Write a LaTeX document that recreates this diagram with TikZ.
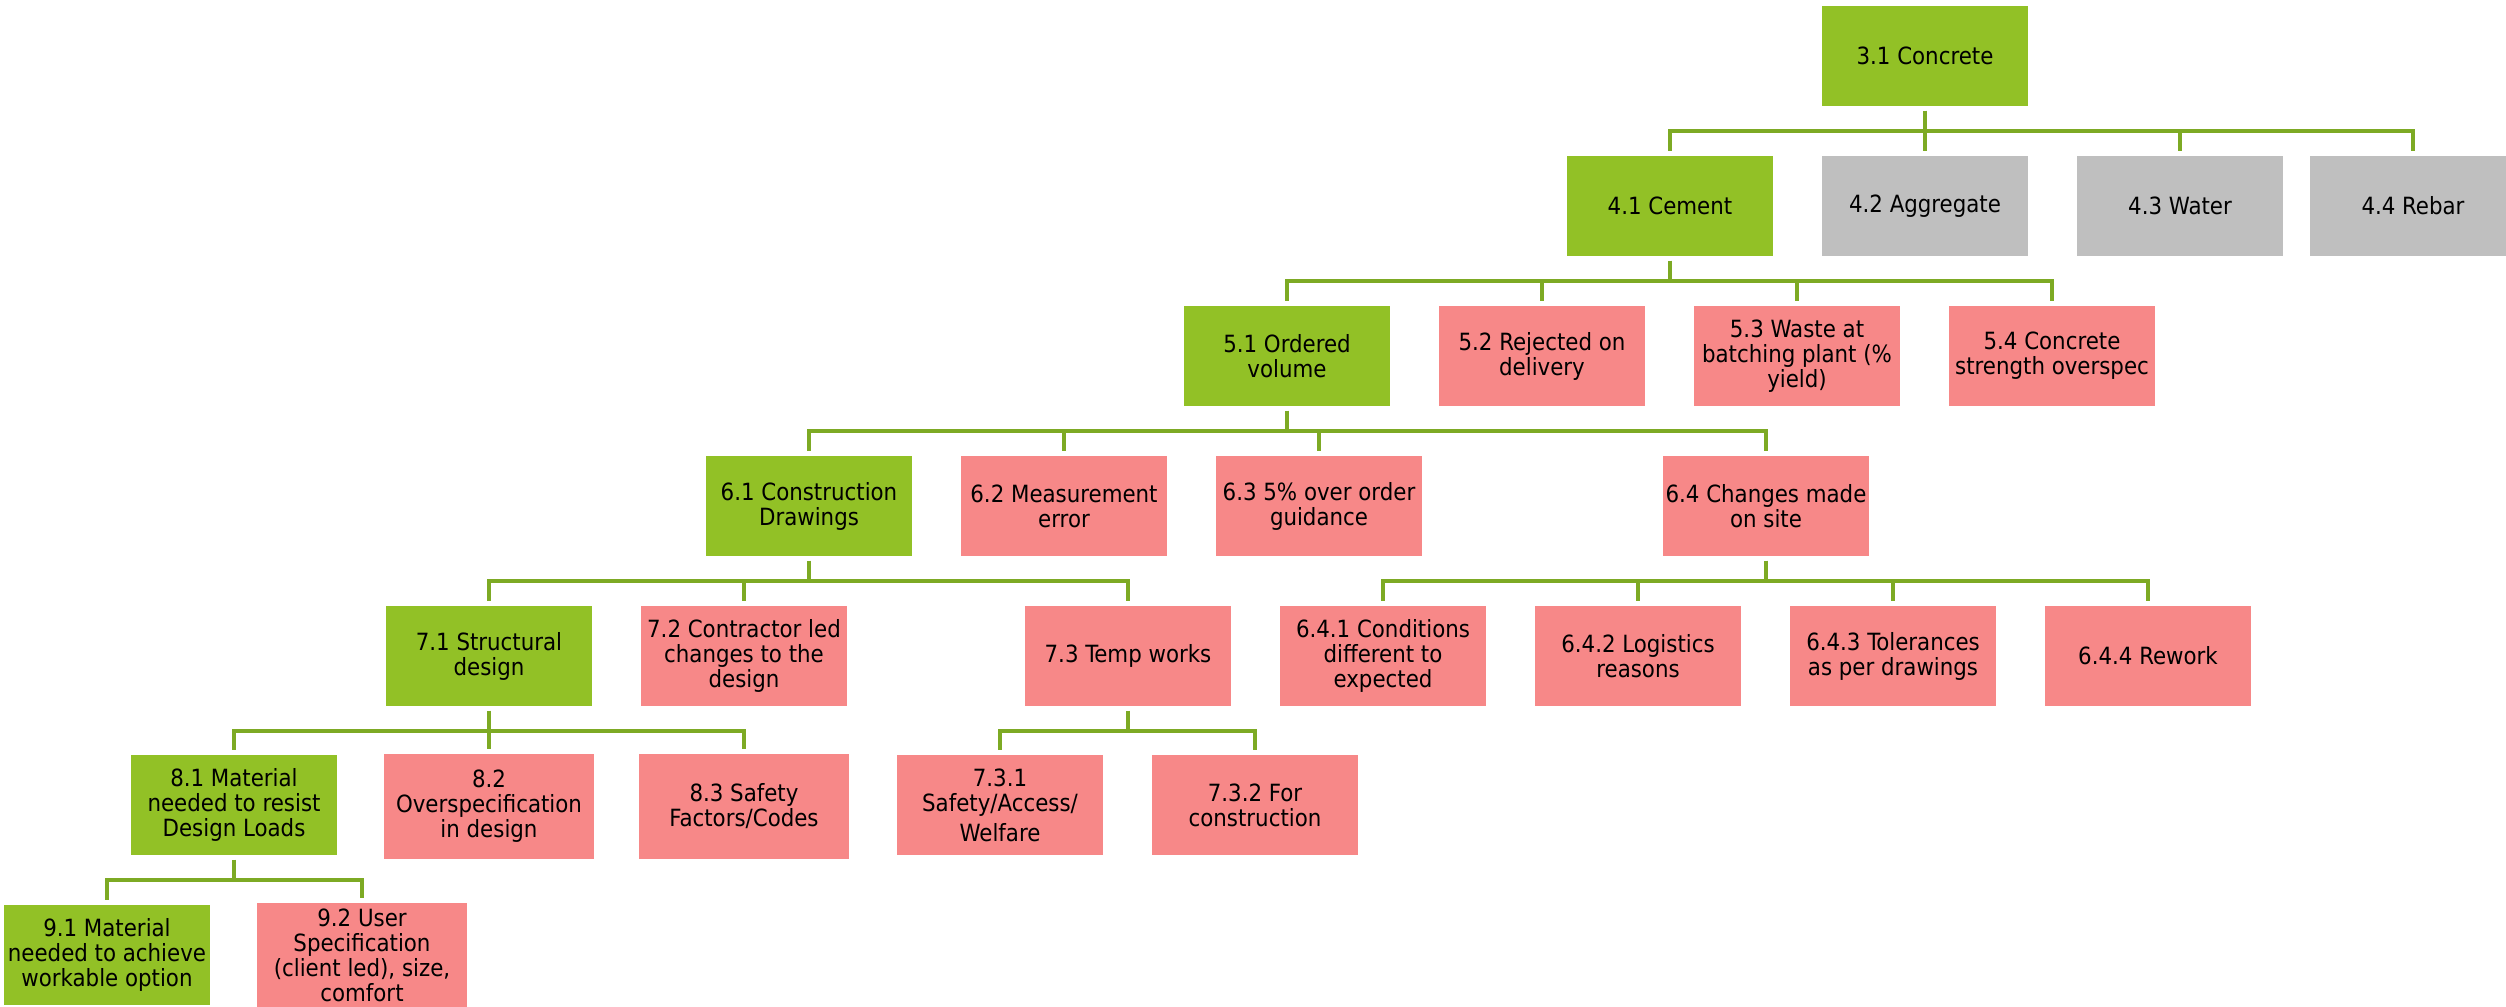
\documentclass[tikz,border=0pt]{standalone}
\usepackage{fontspec}
\setmainfont{DejaVu Sans Condensed}
\definecolor{wbsgreen}{RGB}{146,193,38}
\definecolor{wbspink}{RGB}{247,136,136}
\definecolor{wbsgrey}{RGB}{191,191,191}
\definecolor{wbsline}{RGB}{125,170,36}
\begin{document}
\begin{tikzpicture}[x=0.02cm,y=-0.02cm,
 box/.style={rectangle,draw=white,line width=0.4pt,minimum width=4.14cm,minimum height=2.02cm,inner sep=0pt,align=center,font=\fontsize{13.5}{14.2}\selectfont},
 mainbox/.style={box,fill=wbsgreen},
 wastebox/.style={box,fill=wbspink},
 greybox/.style={box,fill=wbsgrey},
 wide/.style={minimum width=4.22cm,minimum height=2.12cm},
 link/.style={draw=wbsline,line width=0.08cm,shorten <=0.08cm,shorten >=0.08cm}]
 \useasboundingbox (0,0) rectangle (2506,1007);
 % level 3 and 4
 \node[mainbox] (c31) at (1925,56) {3.1 Concrete};
 \node[mainbox] (c41) at (1670,206) {4.1 Cement};
 \node[greybox] (c42) at (1925,206) {4.2 Aggregate};
 \node[greybox] (c43) at (2180,206) {4.3 Water};
 \node[greybox] (c44) at (2413,206) {4.4 Rebar};
 % level 5
 \node[mainbox] (c51) at (1287,356) {5.1 Ordered\\volume};
 \node[wastebox] (c52) at (1542,356) {5.2 Rejected on\\delivery};
 \node[wastebox] (c53) at (1797,356) {5.3 Waste at\\batching plant (\%\\yield)};
 \node[wastebox] (c54) at (2052,356) {5.4 Concrete\\strength overspec};
 % level 6
 \node[mainbox] (c61) at (809,506) {6.1 Construction\\Drawings};
 \node[wastebox] (c62) at (1064,506) {6.2 Measurement\\error};
 \node[wastebox] (c63) at (1319,506) {6.3 5\% over order\\guidance};
 \node[wastebox] (c64) at (1766,506) {6.4 Changes made\\on site};
 % level 7
 \node[mainbox] (c71) at (489,656) {7.1 Structural\\design};
 \node[wastebox] (c72) at (744,656) {7.2 Contractor led\\changes to the\\design};
 \node[wastebox] (c73) at (1128,656) {7.3 Temp works};
 \node[wastebox] (c641) at (1383,656) {6.4.1 Conditions\\different to\\expected};
 \node[wastebox] (c642) at (1638,656) {6.4.2 Logistics\\reasons};
 \node[wastebox] (c643) at (1893,656) {6.4.3 Tolerances\\as per drawings};
 \node[wastebox] (c644) at (2148,656) {6.4.4 Rework};
 % level 8
 \node[mainbox] (c81) at (234,805) {8.1 Material\\needed to resist\\Design Loads};
 \node[wastebox,wide] (c82) at (489,806) {8.2\\Overspecification\\in design};
 \node[wastebox,wide] (c83) at (744,806) {8.3 Safety\\Factors/Codes};
 \node[wastebox] (c731) at (1000,805) {7.3.1\\Safety/Access/\\[3pt]Welfare};
 \node[wastebox] (c732) at (1255,805) {7.3.2 For\\construction};
 % level 9
 \node[mainbox] (c91) at (107,955) {9.1 Material\\needed to achieve\\workable option};
 \node[wastebox,wide] (c92) at (362,955) {9.2 User\\Specification\\(client led), size,\\comfort};
 % connectors
 \draw[link] (c31.south) -- ++(0,24) -| (c41.north);
 \draw[link] (c31.south) -- ++(0,24) -| (c42.north);
 \draw[link] (c31.south) -- ++(0,24) -| (c43.north);
 \draw[link] (c31.south) -- ++(0,24) -| (c44.north);
 \draw[link] (c41.south) -- ++(0,24) -| (c51.north);
 \draw[link] (c41.south) -- ++(0,24) -| (c52.north);
 \draw[link] (c41.south) -- ++(0,24) -| (c53.north);
 \draw[link] (c41.south) -- ++(0,24) -| (c54.north);
 \draw[link] (c51.south) -- ++(0,24) -| (c61.north);
 \draw[link] (c51.south) -- ++(0,24) -| (c62.north);
 \draw[link] (c51.south) -- ++(0,24) -| (c63.north);
 \draw[link] (c51.south) -- ++(0,24) -| (c64.north);
 \draw[link] (c61.south) -- ++(0,24) -| (c71.north);
 \draw[link] (c61.south) -- ++(0,24) -| (c72.north);
 \draw[link] (c61.south) -- ++(0,24) -| (c73.north);
 \draw[link] (c64.south) -- ++(0,24) -| (c641.north);
 \draw[link] (c64.south) -- ++(0,24) -| (c642.north);
 \draw[link] (c64.south) -- ++(0,24) -| (c643.north);
 \draw[link] (c64.south) -- ++(0,24) -| (c644.north);
 \draw[link] (c71.south) -- ++(0,24) -| (c81.north);
 \draw[link] (c71.south) -- ++(0,24) -| (c82.north);
 \draw[link] (c71.south) -- ++(0,24) -| (c83.north);
 \draw[link] (c73.south) -- ++(0,24) -| (c731.north);
 \draw[link] (c73.south) -- ++(0,24) -| (c732.north);
 \draw[link] (c81.south) -- ++(0,24) -| (c91.north);
 \draw[link] (c81.south) -- ++(0,24) -| (c92.north);
\end{tikzpicture}
\end{document}
